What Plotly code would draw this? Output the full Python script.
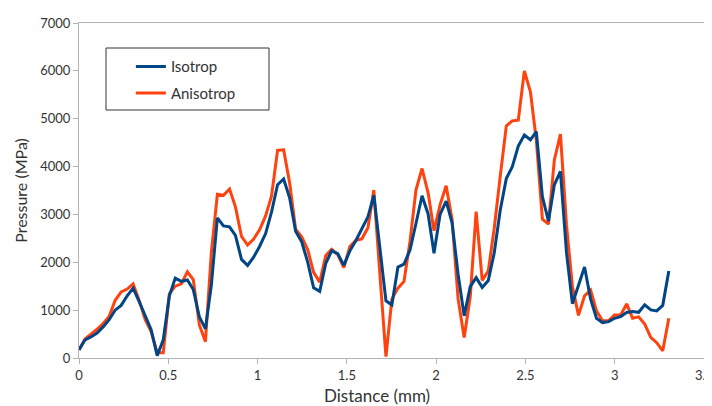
import plotly.graph_objects as go

distance_mm = [0.000, 0.034, 0.067, 0.101, 0.135, 0.169, 0.202, 0.236, 0.270, 0.303,
               0.337, 0.371, 0.404, 0.438, 0.472, 0.506, 0.539, 0.573, 0.607, 0.640,
               0.674, 0.708, 0.741, 0.775, 0.809, 0.843, 0.876, 0.910, 0.944, 0.977,
               1.011, 1.045, 1.078, 1.112, 1.146, 1.180, 1.213, 1.247, 1.281, 1.314,
               1.348, 1.382, 1.415, 1.449, 1.483, 1.517, 1.550, 1.584, 1.618, 1.651,
               1.685, 1.719, 1.752, 1.786, 1.820, 1.854, 1.887, 1.921, 1.955, 1.988,
               2.022, 2.056, 2.089, 2.123, 2.157, 2.191, 2.224, 2.258, 2.292, 2.325,
               2.359, 2.393, 2.426, 2.460, 2.494, 2.528, 2.561, 2.595, 2.629, 2.662,
               2.696, 2.730, 2.763, 2.797, 2.831, 2.865, 2.898, 2.932, 2.966, 2.999,
               3.033, 3.067, 3.100, 3.134, 3.168, 3.202, 3.235, 3.269, 3.303]

isotrop = [170, 380, 440, 520, 650, 800, 1000, 1100, 1300, 1460,
           1180, 870, 590, 50, 380, 1300, 1670, 1600, 1630, 1430,
           860, 610, 1520, 2930, 2760, 2740, 2560, 2060, 1935, 2100,
           2330, 2600, 3050, 3620, 3740, 3340, 2650, 2430, 2000, 1466,
           1393, 1980, 2240, 2180, 1935, 2240, 2450, 2700, 2950, 3400,
           2300, 1195, 1110, 1900, 1960, 2260, 2810, 3390, 3010, 2190,
           3000, 3280, 2830, 1750, 880, 1490, 1680, 1475, 1620, 2190,
           3090, 3750, 3990, 4430, 4660, 4560, 4730, 3370, 2860, 3620,
           3900, 2200, 1135, 1500, 1900, 1230, 830, 740, 760, 830,
           865, 950, 970, 955, 1110, 1005, 985, 1100, 1820]

anisotrop = [170, 400, 500, 600, 720, 870, 1200, 1380, 1440, 1550,
             1200, 800, 550, 110, 110, 1340, 1500, 1550, 1800, 1640,
             690, 340, 2200, 3420, 3400, 3530, 3160, 2540, 2360, 2480,
             2680, 2970, 3380, 4340, 4350, 3650, 2690, 2530, 2260, 1790,
             1585, 2140, 2270, 2160, 1890, 2330, 2460, 2490, 2720, 3510,
             1750, 30, 1230, 1460, 1600, 2450, 3510, 3960, 3450, 2660,
             3200, 3600, 2900, 1230, 430, 1280, 3060, 1620, 1820, 2700,
             3800, 4850, 4955, 4970, 6000, 5560, 4550, 2900, 2800, 4140,
             4680, 2780, 1500, 890, 1300, 1420, 985, 780, 780, 900,
             900, 1130, 830, 860, 710, 430, 320, 150, 830]

x_ticks = [0, 0.5, 1, 1.5, 2, 2.5, 3, 3.5]
x_tick_labels = ["0", "0.5", "1", "1.5", "2", "2.5", "3", "3.5"]
y_ticks = [0, 1000, 2000, 3000, 4000, 5000, 6000, 7000]

FONT = "Lato"
AXIS_GRAY = "#b3b3b3"
TEXT = "#333333"

fig = go.Figure()
fig.add_trace(go.Scatter(x=distance_mm, y=anisotrop, mode="lines", name="Anisotrop",
                         legendgroup="a", legendrank=2,
                         line=dict(color="#ff420e", width=3)))
fig.add_trace(go.Scatter(x=distance_mm, y=isotrop, mode="lines", name="Isotrop",
                         legendgroup="i", legendrank=1,
                         line=dict(color="#004586", width=3)))

# the page body adds an 8px offset; margins compensate so the plot area sits where the reference has it
fig.update_layout(
    width=712, height=406,
    margin=dict(l=71, r=16, t=15, b=56),
    paper_bgcolor="white", plot_bgcolor="white",
    font=dict(family=FONT, color=TEXT, size=13),
    showlegend=True,
    legend=dict(x=0.083, y=0.919, xanchor="left", yanchor="top",
                traceorder="grouped", bgcolor="rgba(0,0,0,0)",
                bordercolor="rgba(0,0,0,0)", borderwidth=0,
                font=dict(family=FONT, size=15, color=TEXT),
                itemwidth=30, tracegroupgap=4),
    shapes=[dict(type="rect", xref="paper", yref="paper",
                 x0=(106 - 79) / 625, x1=(269 - 79) / 625,
                 y0=(358 - 110) / 335, y1=(358 - 48) / 335,
                 line=dict(color="#333333", width=1), fillcolor="rgba(0,0,0,0)")],
    annotations=[dict(text="Distance (mm)", xref="paper", yref="paper",
                      x=(377 - 79) / 625, y=(358 - 395) / 335,
                      xanchor="center", yanchor="middle", showarrow=False,
                      font=dict(family=FONT, size=17, color=TEXT))],
)

fig.update_xaxes(
    range=[0, 3.5], tickvals=x_ticks, ticktext=x_tick_labels,
    showgrid=False, zeroline=False, automargin=False,
    showline=True, linecolor=AXIS_GRAY, linewidth=1, mirror=True,
    ticks="outside", ticklen=5, tickcolor=AXIS_GRAY, ticklabeloverflow="allow",
    tickfont=dict(family=FONT, size=13, color=TEXT),
)
fig.update_yaxes(
    range=[0, 7000], tickvals=y_ticks,
    showgrid=False, zeroline=False, automargin=False,
    showline=True, linecolor=AXIS_GRAY, linewidth=1, mirror=True,
    ticks="outside", ticklen=5, tickcolor=AXIS_GRAY,
    tickfont=dict(family=FONT, size=13, color=TEXT),
    title=dict(text="Pressure (MPa)", font=dict(family=FONT, size=16, color=TEXT), standoff=8),
)

fig.write_html("out.html")
